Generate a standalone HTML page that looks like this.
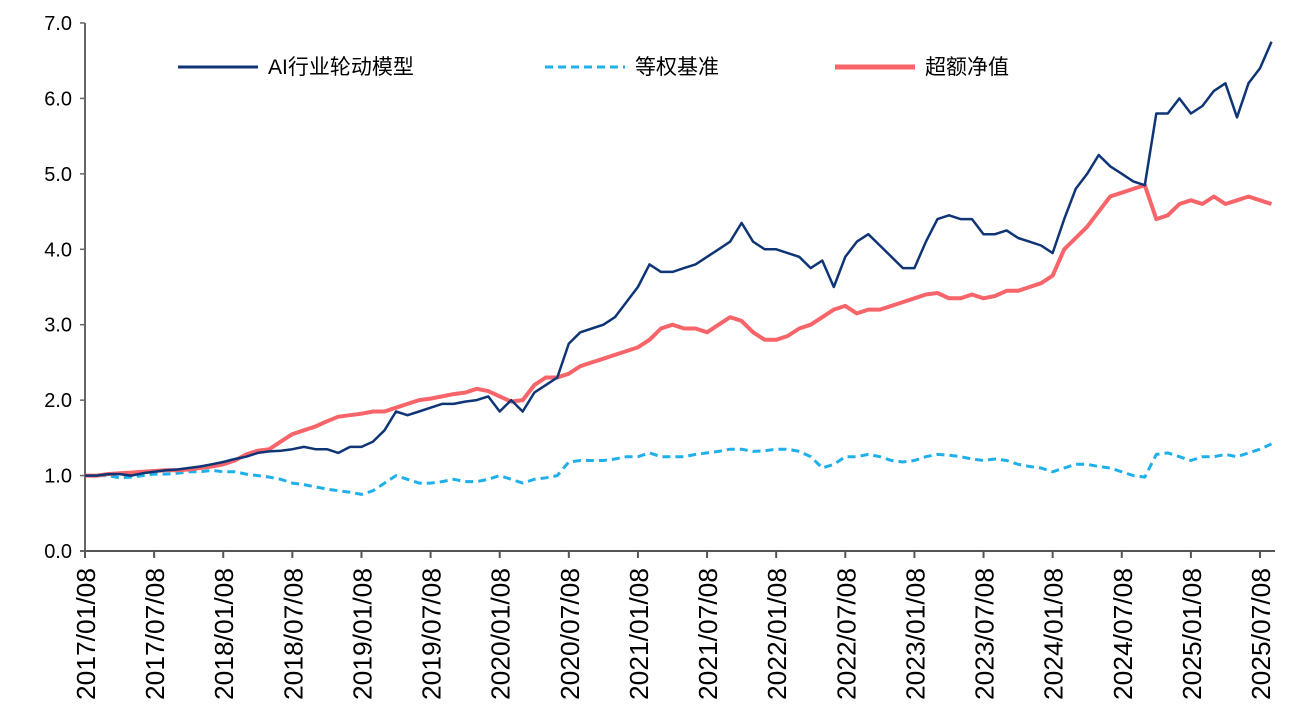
<!DOCTYPE html>
<html><head><meta charset="utf-8"><style>
body{margin:0;background:#fff;}
svg{display:block;font-family:"Liberation Sans","Noto Sans CJK SC",sans-serif;}
</style></head><body>
<svg id="chart" width="1290" height="720"></svg>
<script>
const xTicks=["2017/01/08","2017/07/08","2018/01/08","2018/07/08","2019/01/08","2019/07/08","2020/01/08","2020/07/08","2021/01/08","2021/07/08","2022/01/08","2022/07/08","2023/01/08","2023/07/08","2024/01/08","2024/07/08","2025/01/08","2025/07/08"];
const yTicks=[0,1,2,3,4,5,6,7];
const modelVals=[1.0,1.0,1.02,1.02,1.0,1.03,1.05,1.07,1.08,1.1,1.12,1.15,
1.18,1.22,1.25,1.3,1.32,1.33,1.35,1.38,1.35,1.35,1.3,1.38,
1.38,1.45,1.6,1.85,1.8,1.85,1.9,1.95,1.95,1.98,2.0,2.05,
1.85,2.0,1.85,2.1,2.2,2.3,2.75,2.9,2.95,3.0,3.1,3.3,
3.5,3.8,3.7,3.7,3.75,3.8,3.9,4.0,4.1,4.35,4.1,4.0,
4.0,3.95,3.9,3.75,3.85,3.5,3.9,4.1,4.2,4.05,3.9,3.75,
3.75,4.1,4.4,4.45,4.4,4.4,4.2,4.2,4.25,4.15,4.1,4.05,
3.95,4.4,4.8,5.0,5.25,5.1,5.0,4.9,4.85,5.8,5.8,6.0,
5.8,5.9,6.1,6.2,5.75,6.2,6.4,6.75];
const benchVals=[1.0,1.0,1.0,0.97,0.98,1.0,1.02,1.02,1.03,1.05,1.05,1.07,
1.05,1.05,1.02,1.0,0.98,0.95,0.9,0.88,0.85,0.82,0.8,0.78,
0.75,0.8,0.9,1.0,0.95,0.9,0.9,0.92,0.95,0.92,0.92,0.95,
1.0,0.95,0.9,0.95,0.97,1.0,1.18,1.2,1.2,1.2,1.22,1.25,
1.25,1.3,1.25,1.25,1.25,1.28,1.3,1.32,1.35,1.35,1.32,1.33,
1.35,1.35,1.32,1.25,1.1,1.15,1.25,1.25,1.28,1.25,1.2,1.18,
1.2,1.25,1.28,1.27,1.25,1.22,1.2,1.22,1.2,1.15,1.12,1.1,
1.05,1.1,1.15,1.15,1.12,1.1,1.05,1.0,0.98,1.28,1.3,1.25,
1.2,1.25,1.25,1.28,1.25,1.3,1.35,1.42];
const excessVals=[1.0,1.0,1.02,1.03,1.04,1.05,1.06,1.07,1.07,1.08,1.1,1.12,
1.15,1.2,1.28,1.33,1.35,1.45,1.55,1.6,1.65,1.72,1.78,1.8,
1.82,1.85,1.85,1.9,1.95,2.0,2.02,2.05,2.08,2.1,2.15,2.12,
2.05,1.98,2.0,2.2,2.3,2.3,2.35,2.45,2.5,2.55,2.6,2.65,
2.7,2.8,2.95,3.0,2.95,2.95,2.9,3.0,3.1,3.05,2.9,2.8,
2.8,2.85,2.95,3.0,3.1,3.2,3.25,3.15,3.2,3.2,3.25,3.3,
3.35,3.4,3.42,3.35,3.35,3.4,3.35,3.38,3.45,3.45,3.5,3.55,
3.65,4.0,4.15,4.3,4.5,4.7,4.75,4.8,4.85,4.4,4.45,4.6,
4.65,4.6,4.7,4.6,4.65,4.7,4.65,4.6];

const NS="http://www.w3.org/2000/svg";
const svg=document.getElementById('chart');
const X0=85,MW=1175/102,Y0=551,YU=75.43;
const xm=i=>X0+i*MW;
const yv=v=>Y0-v*YU;
function mk(tag,attrs,parent){const e=document.createElementNS(NS,tag);for(const k in attrs)e.setAttribute(k,attrs[k]);(parent||svg).appendChild(e);return e;}

let ax=mk('line',{x1:X0,y1:23,x2:X0,y2:Y0,stroke:'#666','stroke-width':2});


let bx=mk('line',{x1:X0-5,y1:Y0,x2:1275,y2:Y0,stroke:'#555','stroke-width':2});


yTicks.forEach(v=>{
  const y=yv(v);
  const t=mk('line',{x1:X0-5,y1:y,x2:X0,y2:y,stroke:'#666','stroke-width':1.5});
  
  
  const l=mk('text',{x:72,y:y+7,'text-anchor':'end','font-size':20,fill:'#000'});
  l.textContent=v.toFixed(1);
  
  
});
xTicks.forEach((s,k)=>{
  const x=xm(k*6);
  const t=mk('line',{x1:x,y1:Y0,x2:x,y2:Y0+7,stroke:'#555','stroke-width':2});
  
  
  const l=mk('text',{x:0,y:0,'text-anchor':'end','font-size':26,fill:'#000',textLength:132,lengthAdjust:'spacingAndGlyphs',transform:`translate(${x+10},${568}) rotate(-90)`});
  l.textContent=s;
  
  
});
function series(vals,attrs,name){
  const p=mk('polyline',Object.assign({points:vals.map((v,i)=>xm(i).toFixed(1)+','+yv(v).toFixed(1)).join(' '),fill:'none','stroke-linejoin':'round'},attrs));
  
  
}
series(benchVals,{stroke:'#1fb0ea','stroke-width':3,'stroke-dasharray':'8 5'},'benchmark-line');
series(excessVals,{stroke:'#f7656a','stroke-width':4},'excess-line');
series(modelVals,{stroke:'#0f3576','stroke-width':2.5},'model-line');

const leg=[["AI行业轮动模型",178,'#0f3576',3,null],["等权基准",545,'#1fb0ea',3,'8 5'],["超额净值",835,'#f7656a',5,null]];
leg.forEach(([txt,x,c,w,d])=>{
  const g=mk('g',{});
  
  
  const a={x1:x,y1:67,x2:x+80,y2:67,stroke:c,'stroke-width':w};
  if(d)a['stroke-dasharray']=d;
  mk('line',a,g);
  const t=mk('text',{x:x+90,y:74,'font-size':21,fill:'#000'},g);
  t.textContent=txt;
});
</script>
</body></html>
